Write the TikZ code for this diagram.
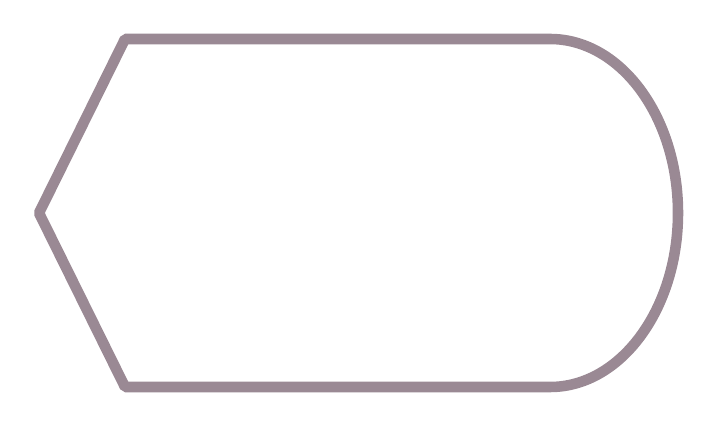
\documentclass[tikz,border=0pt]{standalone}
\definecolor{mauvegray}{RGB}{154,137,148}
\begin{document}
\begin{tikzpicture}[x=0.02cm,y=0.02cm]
        \useasboundingbox (0,0) rectangle (720,429);
        \coordinate (tl) at (125,390);
        \coordinate (tr) at (550,390);
        \coordinate (bl) at (125,42);
        \coordinate (tip) at (39,216);
        \draw[mauvegray,line width=6pt,line join=bevel] (tl) -- (tr)
            arc[start angle=90,end angle=-90,x radius=128,y radius=174]
            -- (bl) -- (tip) -- cycle;
    \end{tikzpicture}
\end{document}
